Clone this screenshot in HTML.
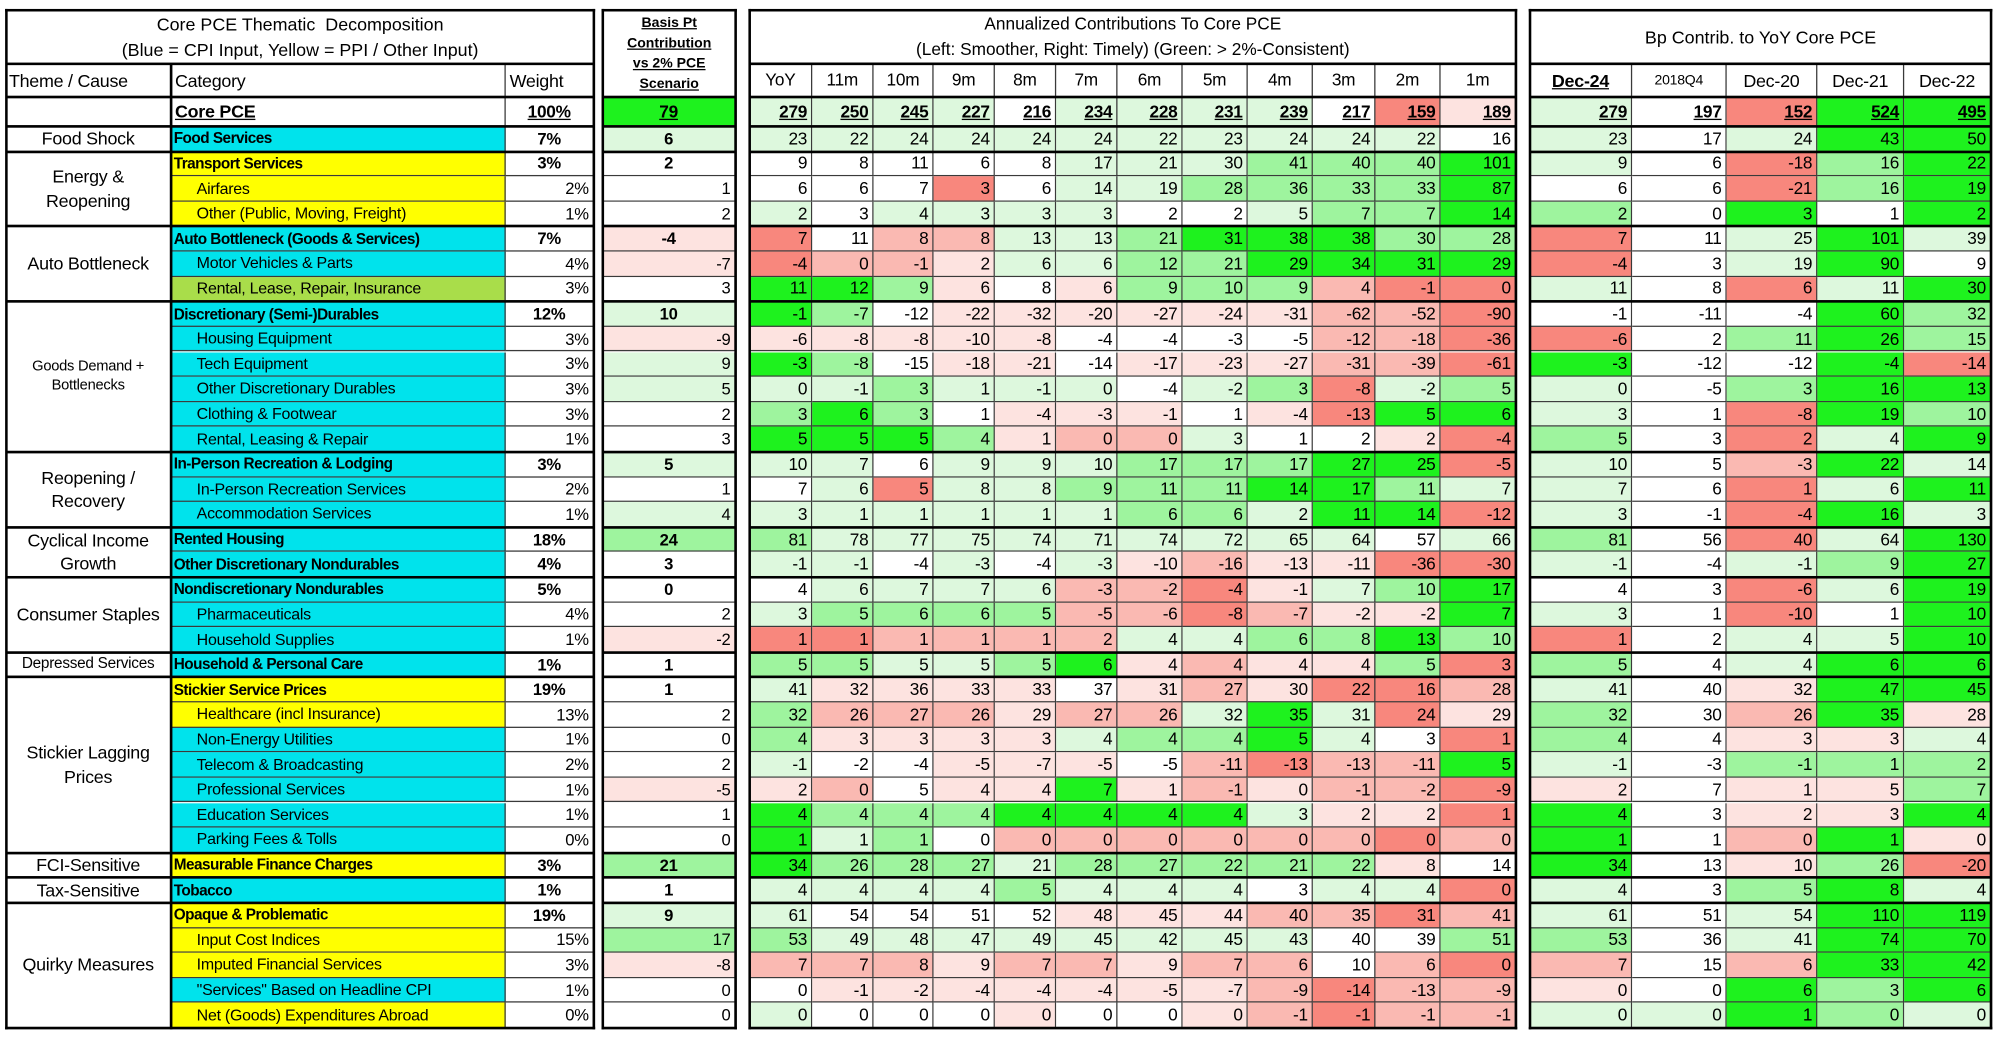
<!DOCTYPE html>
<html><head><meta charset="utf-8">
<style>
html,body{margin:0;padding:0;background:#fff;}
body{width:2000px;height:1040px;overflow:hidden;position:relative;}
#root{position:absolute;left:0;top:0;width:1566px;height:814px;transform:scale(1.27714);transform-origin:0 0;font-family:"Liberation Sans",sans-serif;color:#000;}
.c{position:absolute;box-sizing:border-box;border-right:1px solid #3a3a3a;border-bottom:1px solid #3a3a3a;white-space:nowrap;overflow:hidden;display:flex;align-items:center;font-size:12.5px;letter-spacing:-0.2px;}
.r{justify-content:flex-end;padding-right:3px;}
.m{justify-content:center;}
.l{justify-content:flex-start;}
.b{font-weight:bold;}
.u{text-decoration:underline;}
.ln{position:absolute;background:#000;}
.t{position:absolute;text-align:center;display:flex;align-items:center;justify-content:center;flex-direction:column;}
</style></head>
<body>
<div id="root"></div>
<script>
const categories=["Food Services","Transport Services","Airfares","Other (Public, Moving, Freight)","Auto Bottleneck (Goods & Services)","Motor Vehicles & Parts","Rental, Lease, Repair, Insurance","Discretionary (Semi-)Durables","Housing Equipment","Tech Equipment","Other Discretionary Durables","Clothing & Footwear","Rental, Leasing & Repair","In-Person Recreation & Lodging","In-Person Recreation Services","Accommodation Services","Rented Housing","Other Discretionary Nondurables","Nondiscretionary Nondurables","Pharmaceuticals","Household Supplies","Household & Personal Care","Stickier Service Prices","Healthcare (incl Insurance)","Non-Energy Utilities","Telecom & Broadcasting","Professional Services","Education Services","Parking Fees & Tolls","Measurable Finance Charges","Tobacco","Opaque & Problematic","Input Cost Indices","Imputed Financial Services","\"Services\" Based on Headline CPI","Net (Goods) Expenditures Abroad"];
const weights=["7%","3%","2%","1%","7%","4%","3%","12%","3%","3%","3%","3%","1%","3%","2%","1%","18%","4%","5%","4%","1%","1%","19%","13%","1%","2%","1%","1%","0%","3%","1%","19%","15%","3%","1%","0%"];
const boldRows=[0,1,4,7,13,16,17,18,21,22,29,30,31];
const catFill="cyyyccz"+"cccccc"+"ccc"+"cc"+"cccc"+"yy"+"ccccc"+"ycyyycy";
const themes=[["Food Shock",0,1],["Energy &\nReopening",1,3],["Auto Bottleneck",4,3],["Goods Demand +\nBottlenecks",7,6],["Reopening /\nRecovery",13,3],["Cyclical Income\nGrowth",16,2],["Consumer Staples",18,3],["Depressed Services",21,1],["Stickier Lagging\nPrices",22,7],["FCI-Sensitive",29,1],["Tax-Sensitive",30,1],["Quirky Measures",31,5]];
const coreBp=79;
const bpValues=[6,2,1,2,-4,-7,3,10,-9,9,5,2,3,5,1,4,24,3,0,2,-2,1,1,2,0,2,-5,1,0,21,1,9,17,-8,0,0];
const annLabels=["YoY","11m","10m","9m","8m","7m","6m","5m","4m","3m","2m","1m"];
const coreAnn=[279,250,245,227,216,234,228,231,239,217,159,189];
const annValues=[
[23,22,24,24,24,24,22,23,24,24,22,16],
[9,8,11,6,8,17,21,30,41,40,40,101],
[6,6,7,3,6,14,19,28,36,33,33,87],
[2,3,4,3,3,3,2,2,5,7,7,14],
[7,11,8,8,13,13,21,31,38,38,30,28],
[-4,0,-1,2,6,6,12,21,29,34,31,29],
[11,12,9,6,8,6,9,10,9,4,-1,0],
[-1,-7,-12,-22,-32,-20,-27,-24,-31,-62,-52,-90],
[-6,-8,-8,-10,-8,-4,-4,-3,-5,-12,-18,-36],
[-3,-8,-15,-18,-21,-14,-17,-23,-27,-31,-39,-61],
[0,-1,3,1,-1,0,-4,-2,3,-8,-2,5],
[3,6,3,1,-4,-3,-1,1,-4,-13,5,6],
[5,5,5,4,1,0,0,3,1,2,2,-4],
[10,7,6,9,9,10,17,17,17,27,25,-5],
[7,6,5,8,8,9,11,11,14,17,11,7],
[3,1,1,1,1,1,6,6,2,11,14,-12],
[81,78,77,75,74,71,74,72,65,64,57,66],
[-1,-1,-4,-3,-4,-3,-10,-16,-13,-11,-36,-30],
[4,6,7,7,6,-3,-2,-4,-1,7,10,17],
[3,5,6,6,5,-5,-6,-8,-7,-2,-2,7],
[1,1,1,1,1,2,4,4,6,8,13,10],
[5,5,5,5,5,6,4,4,4,4,5,3],
[41,32,36,33,33,37,31,27,30,22,16,28],
[32,26,27,26,29,27,26,32,35,31,24,29],
[4,3,3,3,3,4,4,4,5,4,3,1],
[-1,-2,-4,-5,-7,-5,-5,-11,-13,-13,-11,5],
[2,0,5,4,4,7,1,-1,0,-1,-2,-9],
[4,4,4,4,4,4,4,4,3,2,2,1],
[1,1,1,0,0,0,0,0,0,0,0,0],
[34,26,28,27,21,28,27,22,21,22,8,14],
[4,4,4,4,5,4,4,4,3,4,4,0],
[61,54,54,51,52,48,45,44,40,35,31,41],
[53,49,48,47,49,45,42,45,43,40,39,51],
[7,7,8,9,7,7,9,7,6,10,6,0],
[0,-1,-2,-4,-4,-4,-5,-7,-9,-14,-13,-9],
[0,0,0,0,0,0,0,0,-1,-1,-1,-1]];
const yoyLabels=["Dec-24","2018Q4","Dec-20","Dec-21","Dec-22"];
const coreYoy=[279,197,152,524,495];
const yoyValues=[
[23,17,24,43,50],[9,6,-18,16,22],[6,6,-21,16,19],[2,0,3,1,2],[7,11,25,101,39],[-4,3,19,90,9],[11,8,6,11,30],
[-1,-11,-4,60,32],[-6,2,11,26,15],[-3,-12,-12,-4,-14],[0,-5,3,16,13],[3,1,-8,19,10],[5,3,2,4,9],
[10,5,-3,22,14],[7,6,1,6,11],[3,-1,-4,16,3],[81,56,40,64,130],[-1,-4,-1,9,27],[4,3,-6,6,19],[3,1,-10,1,10],
[1,2,4,5,10],[5,4,4,6,6],[41,40,32,47,45],[32,30,26,35,28],[4,4,3,3,4],[-1,-3,-1,1,2],[2,7,1,5,7],[4,3,2,3,4],
[1,1,0,1,0],[34,13,10,26,-20],[4,3,5,8,4],[61,51,54,110,119],[53,36,41,74,70],[7,15,6,33,42],[0,0,6,3,6],[0,0,1,0,0]];
// heat colour codes (style)
const bpColors="1000aa01a110010120"+"00a00000a002012a00";
const coreAnnColors="1111011110ca";
const annColors=["111111111110","000001112223","000c01122223","101111001223","c0bb11233322","cbba11223333","332a0a222bcc","320aaaaaabbc","aaaaa0000bbc","320aa0aaabbc","112111012c12","2320aaa0ac33","3332abb100ac","11011122233c","01c112223321","11111122133c","211111111101","110101abaacc","01111bbca123","12222bbcbaa3","ccbbbb112232","221123abaa2c","1aaaa0abaccb","2bbbabb131ca","2aaaa122310c","100aaa0bcbb3","ab0aa3ababbc","322233331aac","3120bbbbbbcb","3222122222a0","11112111011c","10000aaabbcb","211111111002","bbbabbabb0bc","0aaaaaaabcbb","1000a00abcbb"];
const coreYoyColors="10c33";
const yoyColors=["10133","10c23","00c23","20303","c0131","c0130","10c13","00032","c0232","3003c","10233","10c32","20c13","10b31","10c13","10c31","20c13","10123","00c13","10c03","c0113","20133","10a33","20b3a","20aa1","10222","a0aa2","30aa3","30b3a","30a2c","10231","10133","20133","b0b33","a0323","11321"];
const COL={"0":"#ffffff","1":"#ddf8dd","2":"#9ef49e","3":"#1ef21e","a":"#fde3e0","b":"#fab9b2","c":"#f8877d"};
const FILL={"c":"#00e3ec","y":"#ffff00","z":"#a9dd4a"};

const root=document.getElementById('root');
const R0=99, RH=(805-99)/36;
const rowY=i=>R0+i*RH;
function cell(x,y,w,h,txt,cls,bg,name,style){
  const d=document.createElement('div');
  d.className='c '+(cls||'');
  d.style.left=x+'px';d.style.top=y+'px';d.style.width=w+'px';d.style.height=h+'px';
  if(bg)d.style.background=bg;
  if(style)d.style.cssText+=style;
  d.textContent=txt;
  
  
  root.appendChild(d);return d;
}
function line(x,y,w,h){
  const d=document.createElement('div');d.className='ln';
  d.style.left=x+'px';d.style.top=y+'px';d.style.width=w+'px';d.style.height=h+'px';
  
  
  root.appendChild(d);
}
function title(x,y,w,h,html,name,style){
  const d=document.createElement('div');d.className='t';
  d.style.left=x+'px';d.style.top=y+'px';d.style.width=w+'px';d.style.height=h+'px';
  if(style)d.style.cssText+=style;
  d.innerHTML=html;
  
  
  root.appendChild(d);
}
const isBold=i=>boldRows.indexOf(i)>=0;
const groupStarts=themes.map(t=>t[1]);

// PANEL 1
const P1=[5,134,396,465];
title(P1[0],8,P1[3]-P1[0],42,"Core PCE Thematic&nbsp; Decomposition<br>(Blue = CPI Input, Yellow = PPI / Other Input)","panel1-title","font-size:14px;line-height:20px;");
cell(P1[0],50,P1[1]-P1[0],26,"Theme / Cause","l b0","","theme-header","font-size:14px;padding-left:2px;");
cell(P1[1],50,P1[2]-P1[1],26,"Category","l","","category-header","font-size:14px;padding-left:3px;");
cell(P1[2],50,P1[3]-P1[2],26,"Weight","l","","weight-header","font-size:14px;padding-left:3px;");
cell(P1[0],76,P1[1]-P1[0],23,"","","","core-theme-cell");
cell(P1[1],76,P1[2]-P1[1],23,"Core PCE","l b u","","core-pce-label","font-size:14px;padding-left:3px;");
cell(P1[2],76,P1[3]-P1[2],23,"100%","m b u","","core-pce-weight","font-size:13.5px;");
themes.forEach(t=>{
  const d=cell(P1[0],rowY(t[1]),P1[1]-P1[0],t[2]*RH,"","m","","theme-"+t[0].toLowerCase().replace(/[^a-z]+/g,'-'),"text-align:center;white-space:pre;line-height:1.3;");
  d.textContent=t[0];
  let fs=14; if(t[0].startsWith("Goods"))fs=11.5; if(t[0].startsWith("Depressed"))fs=12;
  d.style.fontSize=fs+'px';
});
categories.forEach((c,i)=>{
  const b=isBold(i);
  cell(P1[1],rowY(i),P1[2]-P1[1],RH,c,"l"+(b?" b":""),FILL[catFill[i]],"category-"+c.toLowerCase().replace(/[^a-z]+/g,'-'),b?"padding-left:2px;font-size:12px;letter-spacing:-0.4px;":"padding-left:20px;");
  cell(P1[2],rowY(i),P1[3]-P1[2],RH,weights[i],b?"m b":"r","","weight-"+i,"font-size:13px;");
});

// PANEL 2
const P2=[472,576];
title(P2[0],8,P2[1]-P2[0],68,"<span style='text-decoration:underline'>Basis Pt</span><span style='text-decoration:underline'>Contribution</span><span style='text-decoration:underline'>vs 2% PCE</span><span style='text-decoration:underline'>Scenario</span>","bp-contribution-header","font-size:11px;font-weight:bold;line-height:16px;border-bottom:1px solid #3a3a3a;box-sizing:border-box;");
cell(P2[0],76,P2[1]-P2[0],23,String(coreBp),"m b u",COL[3],"core-bp-value","font-size:13.5px;");
bpValues.forEach((v,i)=>{
  const b=isBold(i);
  cell(P2[0],rowY(i),P2[1]-P2[0],RH,String(v),b?"m b":"r",COL[bpColors[i]],"bp-value-"+i,"font-size:13px;");
});

// PANEL 3
const P3=[587,636,684,731,779,827,875,926,977,1028,1077,1128,1187];
title(P3[0],8,P3[12]-P3[0],42,"Annualized Contributions To Core PCE<br>(Left: Smoother, Right: Timely) (Green: &gt; 2%-Consistent)","annualized-title","font-size:13.5px;line-height:20px;border-bottom:1px solid #000;box-sizing:border-box;");
annLabels.forEach((lb,j)=>{
  cell(P3[j],50,P3[j+1]-P3[j],26,lb,"m","","ann-header-"+lb,"font-size:13.5px;");
  cell(P3[j],76,P3[j+1]-P3[j],23,String(coreAnn[j]),"r b u",COL[coreAnnColors[j]],"core-ann-"+lb,"font-size:13.5px;");
});
annValues.forEach((row,i)=>{
  row.forEach((v,j)=>{
    cell(P3[j],rowY(i),P3[j+1]-P3[j],RH,String(v),"r",COL[annColors[i][j]],"ann-cell","font-size:13.5px;");
  });
});

// PANEL 4
const P4=[1198,1278,1352,1423,1491,1559];
title(P4[0],8,P4[5]-P4[0],42,"Bp Contrib. to YoY Core PCE","yoy-title","font-size:14px;border-bottom:1px solid #000;box-sizing:border-box;");
yoyLabels.forEach((lb,j)=>{
  cell(P4[j],50,P4[j+1]-P4[j],26,lb,"m"+(j==0?" b u":""),"","yoy-header-"+lb,j==1?"font-size:11px;":"font-size:14px;");
  cell(P4[j],76,P4[j+1]-P4[j],23,String(coreYoy[j]),"r b u",COL[coreYoyColors[j]],"core-yoy-"+lb,"font-size:13.5px;");
});
yoyValues.forEach((row,i)=>{
  row.forEach((v,j)=>{
    cell(P4[j],rowY(i),P4[j+1]-P4[j],RH,String(v),"r",COL[yoyColors[i][j]],"yoy-cell","font-size:13.5px;");
  });
});

// Borders
function frame(x0,x1,hasTitleLine){
  line(x0-1,7,x1-x0+2,2); line(x0-1,804,x1-x0+2,2);
  line(x0-1,7,2,799); line(x1-1,7,2,799);
  if(hasTitleLine) line(x0,49,x1-x0,2);
  line(x0,75,x1-x0,2); line(x0,98,x1-x0,2);
  groupStarts.forEach(g=>{ if(g>0) line(x0,rowY(g)-1,x1-x0,2); });
}
frame(P1[0],P1[3],true);
frame(P2[0],P2[1],false);
frame(P3[0],P3[12],true);
frame(P4[0],P4[5],true);
line(P1[1]-1,50,2,756);
</script>
</body></html>
